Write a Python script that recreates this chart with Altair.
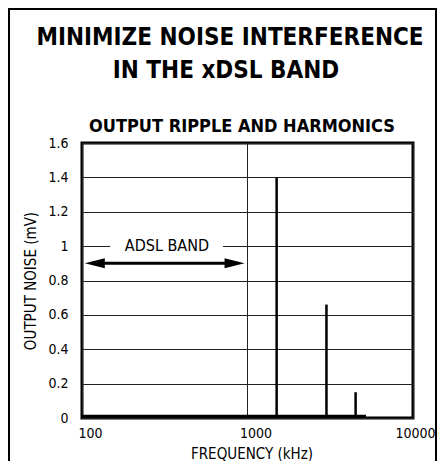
import altair as alt
import pandas as pd

# ---- data ----
PEAK_FREQ_KHZ = [1500, 3000, 4500]
PEAK_MV = [1.40, 0.66, 0.15]

NOISE_FLOOR_FREQ = [100, 5200]
NOISE_FLOOR_MV = [0.012, 0.012]

BAND_ARROW_FREQ = [104, 960]
BAND_ARROW_MV = 0.9
BAND_LABEL = "ADSL BAND"
BAND_LABEL_FREQ = 326
BAND_LABEL_MV = 1.0
BAND_LABEL_GAP_FREQ = [148, 711]
BAND_LABEL_GAP_MV = [0.96, 1.04]

X_TICKS = [100, 1000, 10000]
Y_TICKS = [0, 0.2, 0.4, 0.6, 0.8, 1.0, 1.2, 1.4, 1.6]

TITLE_LINES = ["MINIMIZE NOISE INTERFERENCE", "IN THE xDSL BAND"]
SUBTITLE = "OUTPUT RIPPLE AND HARMONICS"
X_TITLE = "FREQUENCY (kHz)"
Y_TITLE = "OUTPUT NOISE (mV)"

FONT = "'Liberation Sans Narrow', 'DejaVu Sans Condensed', sans-serif"

W, H = 331, 275
PAD = {"left": 74, "top": 135, "right": 24, "bottom": 43}
FRAME_RIGHT = 354  # outer frame, px right of the plot's left edge

xscale = alt.Scale(type="log", domain=[100, 10000], nice=False)
yscale = alt.Scale(domain=[0, 1.6], nice=False, zero=False)

X_AXIS = alt.Axis(
    values=X_TICKS, grid=True, ticks=False, domain=False, format="d",
    labelAlign={"condition": {"test": "datum.value == 10000", "value": "right"}, "value": "center"},
    labelOffset={"condition": {"test": "datum.value == 10000", "value": 22}, "value": 8},
    labelPadding=8, labelFlush=False, labelOverlap=False,
    titleX=W / 2 + 4, titleY=40, titleBaseline="alphabetic", titleAlign="center")
Y_AXIS = alt.Axis(values=Y_TICKS, grid=True, ticks=False, domain=False, format="~g",
                  labelPadding=14, labelOverlap=False,
                  titleX=-52, titleY=H / 2, titleAngle=270, titleBaseline="middle",
                  titleAlign="center")


def X(field):
    return alt.X(field, scale=xscale, title=X_TITLE, axis=X_AXIS)


def Y(field):
    return alt.Y(field, scale=yscale, title=Y_TITLE, axis=Y_AXIS)


peaks = pd.DataFrame({"freq": PEAK_FREQ_KHZ, "mv": PEAK_MV, "base": [0] * len(PEAK_MV)})

base = alt.Chart(peaks).mark_rule(color="black", strokeWidth=2.5).encode(
    x=X("freq:Q"), y=Y("mv:Q"), y2="base:Q")

noise = alt.Chart(pd.DataFrame({"freq": [NOISE_FLOOR_FREQ[0]], "freq2": [NOISE_FLOOR_FREQ[1]],
                                "mv": [NOISE_FLOOR_MV[0]]})).mark_rule(
    color="black", strokeWidth=2.5).encode(x=X("freq:Q"), x2="freq2:Q", y=Y("mv:Q"))

gap = alt.Chart(pd.DataFrame({"freq": [BAND_LABEL_GAP_FREQ[0]], "freq2": [BAND_LABEL_GAP_FREQ[1]],
                              "mv": [BAND_LABEL_GAP_MV[0]], "mv2": [BAND_LABEL_GAP_MV[1]]})).mark_rect(
    color="white", opacity=1).encode(x=X("freq:Q"), x2="freq2:Q", y=Y("mv:Q"), y2="mv2:Q")

label = alt.Chart(pd.DataFrame({"freq": [BAND_LABEL_FREQ], "mv": [BAND_LABEL_MV],
                                "t": [BAND_LABEL]})).mark_text(
    font=FONT, fontSize=16, color="black", baseline="middle", align="center").encode(
    x=X("freq:Q"), y=Y("mv:Q"), text="t:N")

arrow = alt.Chart(pd.DataFrame({"freq": [BAND_ARROW_FREQ[0] * 1.1], "freq2": [BAND_ARROW_FREQ[1] / 1.1],
                                "mv": [BAND_ARROW_MV]})).mark_rule(
    color="black", strokeWidth=3).encode(x=X("freq:Q"), x2="freq2:Q", y=Y("mv:Q"))

head_left = alt.Chart(pd.DataFrame({"freq": [BAND_ARROW_FREQ[0]], "mv": [BAND_ARROW_MV]})).mark_point(
    shape="M 0 0 L 2 -0.5 L 2 0.5 Z", filled=True, color="black", opacity=1, size=400,
    strokeWidth=0).encode(x=X("freq:Q"), y=Y("mv:Q"))

head_right = alt.Chart(pd.DataFrame({"freq": [BAND_ARROW_FREQ[1]], "mv": [BAND_ARROW_MV]})).mark_point(
    shape="M 0 0 L -2 -0.5 L -2 0.5 Z", filled=True, color="black", opacity=1, size=400,
    strokeWidth=0).encode(x=X("freq:Q"), y=Y("mv:Q"))

one = pd.DataFrame({"d": [0]})


def text_mark(s, x, y, size, weight):
    return alt.Chart(pd.DataFrame({"t": [s]})).mark_text(
        font=FONT, fontSize=size, fontWeight=weight, color="black",
        align="center", baseline="alphabetic").encode(
        text="t:N", x=alt.value(x), y=alt.value(y))


title1 = text_mark(TITLE_LINES[0], 148, -98, 24, "bold")
title2 = text_mark(TITLE_LINES[1], 144, -65, 24, "bold")
subtitle = text_mark(SUBTITLE, 160, -11, 18, "bold")

frame_left = alt.Chart(one).mark_rule(color="black", strokeWidth=2).encode(
    x=alt.value(-73), y=alt.value(-134), y2=alt.value(H + PAD["bottom"]))
frame_right = alt.Chart(one).mark_rule(color="black", strokeWidth=2).encode(
    x=alt.value(FRAME_RIGHT), y=alt.value(-134), y2=alt.value(H + PAD["bottom"]))
frame_top = alt.Chart(one).mark_rule(color="black", strokeWidth=2).encode(
    y=alt.value(-134), x=alt.value(-74), x2=alt.value(FRAME_RIGHT + 1))

chart = alt.layer(
    base, noise, gap, label, arrow, head_left, head_right,
    title1, title2, subtitle, frame_left, frame_right, frame_top,
).properties(
    width=W, height=H, padding=PAD, autosize=alt.AutoSizeParams(type="none"),
    background="white",
).configure_view(
    stroke="black", strokeWidth=3,
).configure_axis(
    gridColor="#222", gridWidth=1, gridOpacity=1,
    labelFont=FONT, labelFontSize=14, labelColor="black",
    titleFont=FONT, titleFontSize=15, titleFontWeight="normal", titleColor="black",
)

chart.save("out.html", embed_options={"renderer": "svg", "actions": False})
